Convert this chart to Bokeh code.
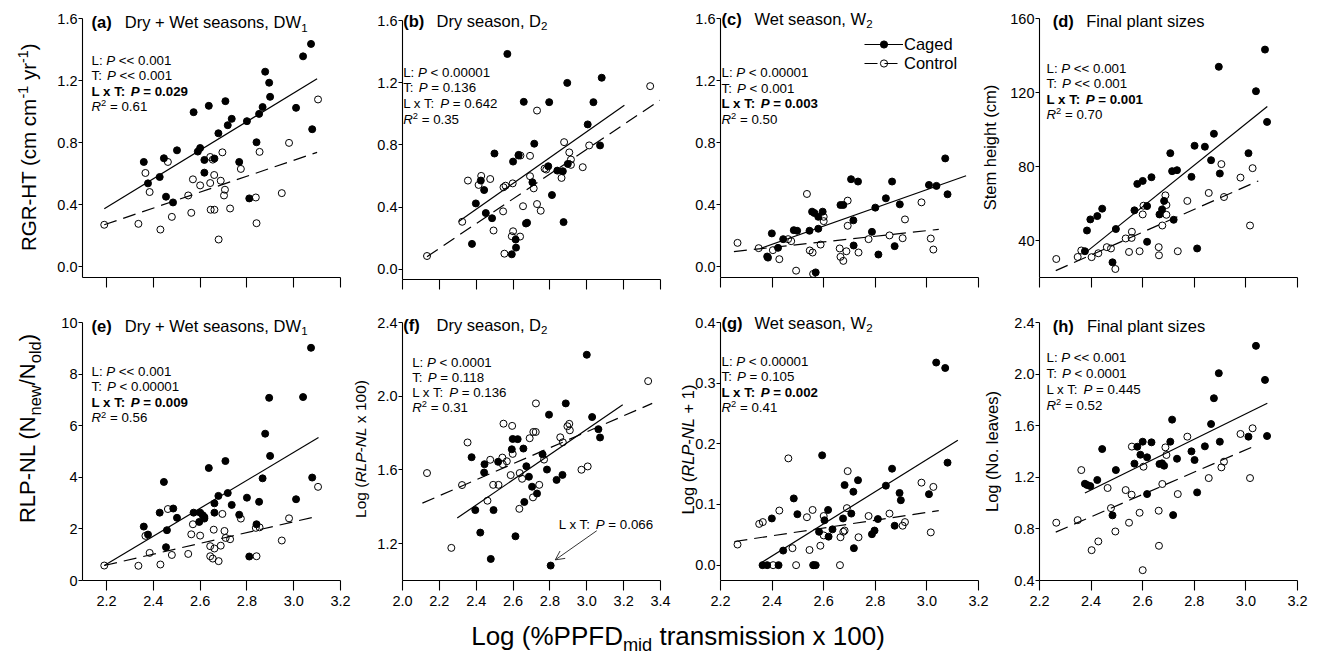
import math
from bokeh.plotting import figure
from bokeh.layouts import row, column
from bokeh.models import (Label, FixedTicker, PrintfTickFormatter, Range1d, Legend,
                          LegendItem, Arrow, OpenHead, LinearAxis)
from bokeh.embed import file_html
from bokeh.resources import INLINE

FONT = "Liberation Sans"

# ---------------- data ----------------
# (a) RGR-HT, DW1
a_caged_x = [2.359, 2.377, 2.427, 2.445, 2.454, 2.484, 2.501, 2.572, 2.590, 2.600, 2.618, 2.618, 2.637, 2.661, 2.678, 2.708, 2.718, 2.735, 2.767, 2.800, 2.810, 2.841, 2.852, 2.867, 2.878, 2.895, 2.899, 3.010, 3.040, 3.074, 3.079]
a_caged_y = [0.675, 0.537, 0.578, 0.699, 0.451, 0.414, 0.750, 0.996, 0.742, 0.765, 0.688, 0.606, 1.037, 0.697, 0.860, 1.067, 0.912, 0.953, 0.675, 0.938, 0.440, 0.802, 0.985, 1.029, 1.257, 1.186, 1.095, 1.024, 1.356, 1.436, 0.886]
a_ctrl_x = [2.190, 2.336, 2.366, 2.384, 2.430, 2.462, 2.479, 2.549, 2.562, 2.569, 2.600, 2.643, 2.643, 2.654, 2.645, 2.661, 2.660, 2.679, 2.688, 2.695, 2.706, 2.702, 2.728, 2.774, 2.838, 2.841, 2.854, 2.949, 2.980, 3.104]
a_ctrl_y = [0.270, 0.276, 0.604, 0.481, 0.239, 0.675, 0.321, 0.459, 0.347, 0.563, 0.524, 0.707, 0.539, 0.690, 0.367, 0.367, 0.591, 0.175, 0.554, 0.737, 0.496, 0.459, 0.375, 0.630, 0.446, 0.280, 0.740, 0.474, 0.798, 1.078]
a_fit_caged_x, a_fit_caged_y = [2.19, 3.10], [0.373, 1.212]
a_fit_ctrl_x, a_fit_ctrl_y = [2.19, 3.10], [0.270, 0.737]

# (b) RGR-HT, D2
b_caged_x = [2.377, 2.398, 2.425, 2.443, 2.452, 2.486, 2.499, 2.569, 2.600, 2.630, 2.658, 2.670, 2.676, 2.593, 2.614, 2.616, 2.705, 2.715, 2.796, 2.791, 2.811, 2.840, 2.870, 2.874, 2.894, 2.897, 3.005, 3.036, 3.072, 3.081]
b_caged_y = [0.164, 0.424, 0.571, 0.510, 0.362, 0.329, 0.745, 1.385, 0.693, 0.736, 1.077, 0.295, 0.300, 0.097, 0.192, 0.140, 0.560, 0.808, 1.075, 0.663, 0.478, 0.635, 0.631, 0.304, 1.199, 0.678, 0.932, 1.075, 0.797, 1.232]
b_ctrl_x = [2.133, 2.324, 2.355, 2.413, 2.427, 2.476, 2.494, 2.546, 2.548, 2.553, 2.559, 2.598, 2.593, 2.600, 2.638, 2.630, 2.640, 2.654, 2.692, 2.692, 2.712, 2.730, 2.730, 2.750, 2.771, 2.780, 2.863, 2.877, 2.905, 2.914, 2.914, 2.978, 3.013, 3.344]
b_ctrl_y = [0.086, 0.306, 0.571, 0.543, 0.601, 0.581, 0.250, 0.373, 0.528, 0.101, 0.538, 0.553, 0.213, 0.245, 0.211, 0.732, 0.732, 0.406, 0.730, 0.599, 0.521, 1.021, 0.420, 0.377, 0.648, 0.642, 0.588, 0.818, 0.752, 0.706, 0.672, 0.657, 0.797, 1.178]
b_fit_caged_x, b_fit_caged_y = [2.305, 3.204], [0.308, 1.055]
b_fit_ctrl_x, b_fit_ctrl_y = [2.133, 3.396], [0.082, 1.087]

# (c) RGR-HT, W2
c_caged_x = [2.381, 2.384, 2.399, 2.423, 2.443, 2.484, 2.497, 2.545, 2.555, 2.564, 2.579, 2.579, 2.596, 2.569, 2.665, 2.676, 2.706, 2.715, 2.716, 2.733, 2.787, 2.800, 2.812, 2.841, 2.865, 2.875, 2.895, 3.008, 3.037, 3.071, 3.080]
c_caged_y = [0.067, 0.060, 0.216, 0.123, 0.179, 0.237, 0.233, 0.233, 0.356, 0.347, 0.323, 0.246, 0.356, -0.035, 0.399, 0.399, 0.565, 0.300, 0.138, 0.550, 0.226, 0.382, 0.080, 0.442, 0.550, 0.134, 0.403, 0.528, 0.522, 0.699, 0.468]
c_ctrl_x = [2.266, 2.348, 2.403, 2.428, 2.462, 2.474, 2.493, 2.535, 2.546, 2.557, 2.559, 2.588, 2.600, 2.600, 2.662, 2.665, 2.676, 2.688, 2.693, 2.693, 2.735, 2.774, 2.855, 2.906, 2.915, 2.979, 3.015, 3.025]
c_ctrl_y = [0.155, 0.121, 0.108, 0.050, 0.179, 0.166, -0.024, 0.470, 0.106, 0.093, -0.045, 0.144, 0.323, 0.295, 0.119, 0.065, 0.039, 0.101, 0.427, 0.265, 0.093, 0.179, 0.203, 0.185, 0.306, 0.416, 0.183, 0.112]
c_fit_caged_x, c_fit_caged_y = [2.355, 3.152], [0.119, 0.587]
c_fit_ctrl_x, c_fit_ctrl_y = [2.252, 3.046], [0.099, 0.242]

# (d) stem height, final
d_caged_x = [2.376, 2.384, 2.397, 2.424, 2.443, 2.483, 2.496, 2.568, 2.579, 2.600, 2.617, 2.617, 2.634, 2.665, 2.675, 2.683, 2.707, 2.714, 2.720, 2.733, 2.789, 2.801, 2.811, 2.841, 2.865, 2.876, 2.895, 2.899, 3.010, 3.039, 3.074, 3.082]
d_caged_y = [34.2, 45.4, 51.4, 53.2, 57.2, 28.2, 46.2, 56.3, 70.6, 72.2, 39.3, 58.6, 74.2, 54.1, 56.8, 61.4, 87.2, 77.5, 51.2, 78.0, 74.4, 91.2, 35.7, 90.7, 83.4, 97.7, 133.9, 76.2, 87.2, 120.7, 143.2, 104.1]
d_ctrl_x = [2.265, 2.348, 2.362, 2.402, 2.428, 2.461, 2.477, 2.494, 2.534, 2.547, 2.558, 2.557, 2.588, 2.600, 2.603, 2.662, 2.663, 2.676, 2.688, 2.692, 2.692, 2.736, 2.773, 2.856, 2.905, 2.915, 2.979, 3.016, 3.026]
d_ctrl_y = [30.0, 31.1, 34.6, 31.0, 33.1, 36.4, 35.7, 24.6, 41.1, 33.8, 44.7, 41.4, 34.2, 54.1, 58.8, 36.4, 32.0, 48.1, 64.4, 59.2, 53.9, 34.2, 61.4, 65.7, 81.3, 63.5, 74.0, 48.1, 79.1]
d_fit_caged_x, d_fit_caged_y = [2.377, 3.083], [33.3, 112.4]
d_fit_ctrl_x, d_fit_ctrl_y = [2.263, 3.048], [23.7, 72.2]

# (e) RLP-NL, DW1
e_caged_x = [2.359, 2.377, 2.427, 2.445, 2.458, 2.454, 2.485, 2.501, 2.572, 2.596, 2.600, 2.611, 2.618, 2.618, 2.637, 2.661, 2.661, 2.678, 2.708, 2.718, 2.735, 2.767, 2.800, 2.810, 2.841, 2.852, 2.867, 2.878, 2.895, 2.899, 3.010, 3.040, 3.074, 3.079]
e_caged_y = [2.09, 1.78, 2.63, 3.82, 1.95, 1.29, 2.79, 2.43, 2.63, 2.27, 2.63, 2.53, 2.46, 2.40, 4.36, 2.63, 2.99, 3.28, 4.63, 3.39, 2.93, 2.55, 3.21, 0.93, 2.18, 3.05, 3.96, 5.69, 7.08, 4.83, 3.15, 7.11, 9.02, 3.99]
e_ctrl_x = [2.190, 2.336, 2.366, 2.384, 2.430, 2.462, 2.479, 2.549, 2.562, 2.569, 2.600, 2.643, 2.643, 2.654, 2.661, 2.658, 2.679, 2.688, 2.695, 2.704, 2.709, 2.728, 2.774, 2.838, 2.841, 2.854, 2.949, 2.980, 3.104]
e_ctrl_y = [0.58, 0.57, 1.73, 1.07, 0.62, 2.77, 0.99, 1.03, 1.79, 2.18, 1.74, 1.33, 0.94, 0.85, 1.24, 1.97, 0.75, 1.35, 2.58, 1.92, 1.65, 1.60, 2.40, 2.04, 0.94, 2.06, 1.55, 2.41, 3.63]
e_fit_caged_x, e_fit_caged_y = [2.19, 3.106], [0.58, 5.54]
e_fit_ctrl_x, e_fit_ctrl_y = [2.19, 3.106], [0.58, 2.50]

# (f) log(RLP-NL x 100), D2
f_caged_x = [2.375, 2.395, 2.422, 2.445, 2.443, 2.479, 2.494, 2.519, 2.593, 2.598, 2.613, 2.625, 2.656, 2.661, 2.672, 2.686, 2.703, 2.730, 2.760, 2.795, 2.784, 2.804, 2.836, 2.868, 2.886, 3.000, 3.029, 3.063, 3.072]
f_caged_y = [1.669, 1.382, 1.260, 1.631, 1.586, 1.117, 1.382, 1.644, 1.712, 1.768, 1.240, 1.767, 1.716, 1.426, 1.620, 1.563, 1.509, 1.472, 1.685, 1.900, 1.602, 1.081, 1.546, 1.573, 1.961, 2.225, 1.887, 1.821, 1.776]
f_ctrl_x = [2.133, 2.265, 2.323, 2.353, 2.461, 2.476, 2.492, 2.521, 2.542, 2.544, 2.548, 2.566, 2.587, 2.595, 2.598, 2.634, 2.636, 2.649, 2.690, 2.710, 2.723, 2.724, 2.708, 2.742, 2.768, 2.856, 2.870, 2.895, 2.905, 2.908, 2.971, 3.005, 3.333]
f_ctrl_y = [1.583, 1.177, 1.518, 1.749, 1.433, 1.655, 1.519, 1.519, 1.667, 1.631, 1.851, 1.647, 1.572, 1.839, 1.687, 1.389, 1.583, 1.552, 1.772, 1.806, 1.806, 1.961, 1.451, 1.519, 1.656, 1.777, 1.750, 1.837, 1.850, 1.815, 1.601, 1.619, 2.082]
f_fit_caged_x, f_fit_caged_y = [2.297, 3.195], [1.339, 1.954]
f_fit_ctrl_x, f_fit_ctrl_y = [2.108, 3.355], [1.420, 1.961]
f_arrow = [3.054, 1.270, 2.829, 1.112]  # x_start, y_start, x_end, y_end

# (g) log(RLP-NL + 1), W2
g_caged_x = [2.363, 2.381, 2.399, 2.425, 2.443, 2.484, 2.498, 2.561, 2.569, 2.582, 2.594, 2.603, 2.617, 2.619, 2.634, 2.675, 2.681, 2.707, 2.715, 2.717, 2.733, 2.787, 2.797, 2.810, 2.841, 2.865, 2.875, 2.894, 2.899, 3.008, 3.036, 3.071, 3.080]
g_caged_y = [0.0, 0.0, 0.077, 0.0, 0.024, 0.110, 0.084, 0.0, 0.0, 0.055, 0.181, 0.074, 0.091, 0.047, 0.059, 0.077, 0.132, 0.085, 0.121, 0.028, 0.140, 0.051, 0.057, 0.076, 0.131, 0.159, 0.065, 0.119, 0.107, 0.117, 0.334, 0.325, 0.169]
g_ctrl_x = [2.266, 2.350, 2.364, 2.404, 2.428, 2.463, 2.479, 2.493, 2.535, 2.545, 2.557, 2.559, 2.587, 2.600, 2.600, 2.663, 2.665, 2.676, 2.681, 2.690, 2.693, 2.735, 2.774, 2.855, 2.906, 2.915, 2.979, 3.015, 3.025]
g_ctrl_y = [0.034, 0.068, 0.071, 0.0, 0.090, 0.176, 0.028, 0.0, 0.079, 0.025, 0.091, 0.0, 0.032, 0.081, 0.049, 0.0, 0.046, 0.055, 0.057, 0.094, 0.155, 0.046, 0.081, 0.085, 0.065, 0.071, 0.136, 0.054, 0.129]
g_fit_caged_x, g_fit_caged_y = [2.355, 3.120], [0.0033, 0.206]
g_fit_ctrl_x, g_fit_ctrl_y = [2.254, 3.046], [0.039, 0.090]

# (h) log(no. leaves), final
h_caged_x = [2.376, 2.385, 2.397, 2.424, 2.443, 2.483, 2.496, 2.568, 2.579, 2.591, 2.600, 2.617, 2.617, 2.634, 2.665, 2.675, 2.683, 2.707, 2.714, 2.718, 2.733, 2.789, 2.801, 2.811, 2.841, 2.865, 2.876, 2.895, 2.899, 3.010, 3.039, 3.074, 3.082]
h_caged_y = [1.150, 1.140, 1.132, 1.179, 1.419, 0.905, 1.256, 1.306, 1.437, 1.375, 1.476, 1.070, 1.355, 1.471, 1.303, 1.308, 1.290, 1.476, 1.647, 0.907, 1.344, 1.401, 1.334, 1.083, 1.440, 1.613, 1.813, 2.007, 1.476, 1.515, 2.219, 1.955, 1.520]
h_ctrl_x = [2.265, 2.348, 2.362, 2.402, 2.428, 2.464, 2.477, 2.494, 2.534, 2.547, 2.558, 2.557, 2.588, 2.600, 2.603, 2.662, 2.663, 2.676, 2.688, 2.692, 2.736, 2.773, 2.856, 2.905, 2.915, 2.979, 3.016, 3.026]
h_ctrl_y = [0.848, 0.868, 1.256, 0.635, 0.703, 1.117, 0.961, 0.780, 1.101, 0.848, 1.438, 1.065, 0.925, 0.480, 1.282, 0.941, 0.669, 1.148, 1.432, 1.373, 1.070, 1.515, 1.194, 1.277, 1.321, 1.536, 1.194, 1.580]
h_fit_caged_x, h_fit_caged_y = [2.376, 3.083], [1.078, 1.774]
h_fit_ctrl_x, h_fit_ctrl_y = [2.263, 3.027], [0.775, 1.437]

# statistics text per panel: L, T, LxT, R2, LxT bold?
stats = {
    "a": ("<< 0.001", "<< 0.001", "= 0.029", "0.61", True),
    "b": ("< 0.00001", "= 0.136", "= 0.642", "0.35", False),
    "c": ("< 0.00001", "< 0.001", "= 0.003", "0.50", True),
    "d": ("<< 0.001", "<< 0.001", "= 0.001", "0.70", True),
    "e": ("<< 0.001", "< 0.00001", "= 0.009", "0.56", True),
    "f": ("< 0.0001", "= 0.118", "= 0.136", "0.31", False),
    "g": ("< 0.00001", "= 0.105", "= 0.002", "0.41", True),
    "h": ("<< 0.001", "< 0.0001", "= 0.445", "0.52", False),
}

# ---------------- text helpers ----------------
REG_W = {' ': 278, '!': 278, '%': 889, '(': 333, ')': 333, '+': 584, ',': 278, '-': 333, '.': 278,
         '/': 278, ':': 278, '<': 584, '=': 584, '>': 584,
         'A': 667, 'B': 667, 'C': 722, 'D': 722, 'E': 667, 'F': 611, 'G': 778, 'H': 722, 'I': 278,
         'L': 556, 'N': 722, 'P': 667, 'R': 722, 'S': 667, 'T': 611, 'W': 944,
         'a': 556, 'b': 556, 'c': 500, 'd': 556, 'e': 556, 'f': 278, 'g': 556, 'h': 556, 'i': 222,
         'l': 222, 'm': 833, 'n': 556, 'o': 556, 'p': 556, 'r': 333, 's': 500, 't': 278, 'v': 500,
         'w': 722, 'x': 500, 'y': 500, 'z': 500}
BOLD_W = {' ': 278, '(': 333, ')': 333, ':': 333, '=': 584, '<': 584, '.': 278, '-': 333,
          'L': 611, 'P': 667, 'T': 611, 'x': 556, 'a': 556, 'b': 611, 'c': 556, 'd': 611,
          'e': 556, 'f': 333, 'g': 611, 'h': 611}
for _d in "0123456789":
    REG_W[_d] = 556
    BOLD_W[_d] = 556

MID = 0.35  # distance (em) from baseline up to the middle of the text box


def text_w(s, size, bold):
    tbl = BOLD_W if bold else REG_W
    return sum(tbl.get(ch, 556) for ch in s) * size / 1000.0


def _pieces(segs, size, small):
    out = []
    cum = 0.0
    for t, st, pos in segs:
        s = size * (small if pos != "base" else 1.0)
        bold = "bold" in st
        lead = len(t) - len(t.lstrip(" "))
        body = t.strip(" ")
        shift = {"base": 0.0, "sub": 0.22 * size, "sup": -0.36 * size}[pos]
        out.append((body, st, s, cum + text_w(" " * lead, s, bold), shift))
        cum += text_w(t, s, bold)
    return out, cum


def _label(p, x, y, text, st, s, ang, xo=0.0, yo=0.0):
    p.add_layout(Label(x=x, y=y, x_offset=xo, y_offset=yo, text=text, angle=ang,
                       text_font=FONT, text_font_size=f"{s:.2f}px", text_font_style=st,
                       text_color="black", text_align="left", text_baseline="middle"))


class Panel:
    """A figure whose frame fills the whole canvas; the visible plot box is drawn with
    fixed-location axes so that texts around it are never clipped."""

    def __init__(self, W, H, fl, ft, fw, fh, xr, yr, xticks, yticks, yfmt, xlabels):
        self.x0, self.x1 = xr
        self.y0, self.y1 = yr
        self.kx = (xr[1] - xr[0]) / fw
        self.ky = (yr[1] - yr[0]) / fh
        rx = Range1d(xr[0] - fl * self.kx, xr[1] + (W - fl - fw) * self.kx)
        ry = Range1d(yr[0] - (H - ft - fh) * self.ky, yr[1] + ft * self.ky)
        p = figure(width=W, height=H, x_range=rx, y_range=ry, min_border=0,
                   x_axis_type=None, y_axis_type=None, output_backend="svg",
                   toolbar_location=None, title=None)
        p.outline_line_color = None
        p.grid.visible = False
        p.background_fill_color = "white"
        p.border_fill_color = "white"
        xa = LinearAxis(ticker=FixedTicker(ticks=xticks), formatter=PrintfTickFormatter(format="%.1f"),
                        fixed_location=yr[0], bounds=tuple(xr))
        ya = LinearAxis(ticker=FixedTicker(ticks=yticks), formatter=PrintfTickFormatter(format=yfmt),
                        fixed_location=xr[0], bounds=tuple(yr))
        for ax in (xa, ya):
            ax.axis_line_color = "black"
            ax.axis_line_width = 1.1
            ax.major_tick_line_color = "black"
            ax.major_tick_line_width = 1.1
            ax.minor_tick_line_color = None
            ax.major_tick_in = 0
            ax.major_label_text_font = FONT
            ax.major_label_text_font_size = "14.5px"
            ax.major_label_text_color = "black"
        xa.major_tick_out = 10
        xa.major_label_standoff = 5
        if not xlabels:
            xa.major_label_text_font_size = "0px"
            xa.major_label_text_color = None
        ya.major_tick_out = 4
        ya.major_label_standoff = 1
        p.add_layout(xa, "below")
        p.add_layout(ya, "left")
        self.p = p

    def rich(self, segs, size, dx, dy, small=0.7, corner="left"):
        """Horizontal text; (dx, dy) px from the plot box top corner to the baseline start."""
        ax = self.x0 if corner == "left" else self.x1
        pieces, _ = _pieces(segs, size, small)
        for body, st, s, adv, shift in pieces:
            down = dy + shift - MID * s
            _label(self.p, ax, self.y1, body, st, s, 0.0, xo=dx + adv, yo=-down)

    def rich_rot(self, segs, size, dx, dy, small=0.7, corner="left"):
        """Bottom-to-top text centred at a baseline point (dx right, dy down) from a top corner."""
        cx = self.x0 if corner == "left" else self.x1
        pieces, total = _pieces(segs, size, small)
        for body, st, s, adv, shift in pieces:
            up = -total / 2.0 + adv
            right = dx + shift - MID * s
            x = cx + right * self.kx
            y = self.y1 - (dy - up) * self.ky
            _label(self.p, x, y, body, st, s, math.pi / 2)

    def stats(self, key, dx, bases):
        L, T, LT, R2, bold = stats[key]
        size = 13.3
        self.rich([("L: ", "normal", "base"), ("P", "italic", "base"), (" " + L, "normal", "base")], size, dx, bases[0])
        self.rich([("T: ", "normal", "base"), ("P", "italic", "base"), (" " + T, "normal", "base")], size, dx, bases[1])
        if bold:
            segs = [("L x T: ", "bold", "base"), ("P", "bold italic", "base"), (" " + LT, "bold", "base")]
        else:
            segs = [("L x T: ", "normal", "base"), ("P", "italic", "base"), (" " + LT, "normal", "base")]
        self.rich(segs, size, dx, bases[2])
        self.rich([("R", "italic", "base"), ("2", "normal", "sup"), (" = " + R2, "normal", "base")], size, dx, bases[3])

    def title(self, letter, segs, ldx, tdx, base):
        self.rich([("(" + letter + ")", "bold", "base")], 16.5, ldx, base)
        self.rich(segs, 16.5, tdx, base)

    def draw(self, cx, cy, ox, oy, fcx, fcy, fox, foy):
        p = self.p
        lc = p.line(fcx, fcy, line_color="black", line_width=1.2)
        lo = p.line(fox, foy, line_color="black", line_width=1.2, line_dash="13 7")
        so = p.scatter(ox, oy, marker="circle", size=7, fill_color=None, line_color="black", line_width=1)
        sc = p.scatter(cx, cy, marker="circle", size=7, fill_color="black", line_color="black", line_width=1)
        return lc, lo, sc, so


XA = [2.2, 2.4, 2.6, 2.8, 3.0, 3.2]
XB = [2.0, 2.2, 2.4, 2.6, 2.8, 3.0, 3.2, 3.4]
Y016 = [0.0, 0.4, 0.8, 1.2, 1.6]
FW, FH1, FH2 = 258, 259, 258
COLW = [351, 323, 328, 306]       # canvas widths (first includes 8px page offset)
FL = [82, 51, 46, 37]             # plot-box left inside each canvas
H1, H2 = 299, 315                 # row heights (first includes 8px page offset)
FT1, FT2 = 18, 23                 # plot-box top inside each canvas

# ---------------- row 1 ----------------
A = Panel(COLW[0], H1, FL[0], FT1, FW, FH1, (2.097, 3.2), (-0.07, 1.6), XA, Y016, "%.1f", False)
A.draw(a_caged_x, a_caged_y, a_ctrl_x, a_ctrl_y, a_fit_caged_x, a_fit_caged_y, a_fit_ctrl_x, a_fit_ctrl_y)
A.title("a", [("Dry + Wet seasons, DW", "normal", "base"), ("1", "normal", "sub")], 9, 42.3, 9.6)
A.stats("a", 9, [46.8, 62.1, 77.5, 92.8])
A.rich_rot([("RGR-HT (cm cm", "normal", "base"), ("-1", "normal", "sup"), (" yr", "normal", "base"),
            ("-1", "normal", "sup"), (")", "normal", "base")], 20.5, -47, 128.7)

B = Panel(COLW[1], H1, FL[1], FT1 + 2, FW, FH1, (2.0, 3.4), (-0.065, 1.6), XB, Y016, "%.1f", False)
B.draw(b_caged_x, b_caged_y, b_ctrl_x, b_ctrl_y, b_fit_caged_x, b_fit_caged_y, b_fit_ctrl_x, b_fit_ctrl_y)
B.title("b", [("Dry season, D", "normal", "base"), ("2", "normal", "sub")], 0.7, 34, 6.1)
B.stats("b", 0.7, [56.6, 72.0, 87.6, 103.3])

C = Panel(COLW[2], H1, FL[2], FT1, FW, FH1, (2.2, 3.2), (-0.068, 1.6), XA, Y016, "%.1f", False)
lc, lo, sc, so = C.draw(c_caged_x, c_caged_y, c_ctrl_x, c_ctrl_y, c_fit_caged_x, c_fit_caged_y, c_fit_ctrl_x, c_fit_ctrl_y)
C.title("c", [("Wet season, W", "normal", "base"), ("2", "normal", "sub")], 1, 34, 6.2)
C.stats("c", 1, [59.1, 74.5, 90.1, 105.8])
leg = Legend(items=[LegendItem(label="Caged", renderers=[lc, sc]),
                    LegendItem(label="Control", renderers=[lo, so])],
             location=(FL[2] + 144, H1 - (FT1 + 16.8 + 38)), border_line_color=None,
             background_fill_alpha=0, padding=0, margin=0, spacing=0, glyph_width=39,
             glyph_height=18, label_height=18, label_standoff=1, label_text_font=FONT,
             label_text_font_size="16.5px", label_text_color="black")
C.p.add_layout(leg)
# y label of panel (d) sits in the gap right of panel (c)
C.rich_rot([("Stem height (cm)", "normal", "base")], 16.5, 17, 129, corner="right")

D = Panel(COLW[3], H1, FL[3], FT1, FW, FH1, (2.2, 3.2), (20, 160), XA, [40, 80, 120, 160], "%d", False)
D.draw(d_caged_x, d_caged_y, d_ctrl_x, d_ctrl_y, d_fit_caged_x, d_fit_caged_y, d_fit_ctrl_x, d_fit_ctrl_y)
D.title("d", [("Final plant sizes", "normal", "base")], 13.3, 46.7, 8.6)
D.stats("d", 7, [55.1, 70.1, 85.5, 100.8])

# ---------------- row 2 ----------------
E = Panel(COLW[0], H2, FL[0], FT2, FW, FH2, (2.097, 3.2), (0, 10), XA, [0, 2, 4, 6, 8, 10], "%d", True)
E.draw(e_caged_x, e_caged_y, e_ctrl_x, e_ctrl_y, e_fit_caged_x, e_fit_caged_y, e_fit_ctrl_x, e_fit_ctrl_y)
E.title("e", [("Dry + Wet seasons, DW", "normal", "base"), ("1", "normal", "sub")], 9, 42.3, 8.9)
E.stats("e", 9, [53.8, 69.1, 84.5, 100.1])
E.rich_rot([("RLP-NL (N", "normal", "base"), ("new", "normal", "sub"), ("/N", "normal", "base"),
            ("old", "normal", "sub"), (")", "normal", "base")], 22, -47, 106, small=0.75)

F = Panel(COLW[1], H2, FL[1], FT2, FW, FH2, (2.0, 3.4), (1.0, 2.4), XB, [1.2, 1.6, 2.0, 2.4], "%.1f", True)
F.draw(f_caged_x, f_caged_y, f_ctrl_x, f_ctrl_y, f_fit_caged_x, f_fit_caged_y, f_fit_ctrl_x, f_fit_ctrl_y)
F.title("f", [("Dry season, D", "normal", "base"), ("2", "normal", "sub")], 0.7, 34, 8.4)
F.stats("f", 9.7, [44.3, 59.6, 74.6, 90.0])
F.rich([("L x T: ", "normal", "base"), ("P", "italic", "base"), (" = 0.066", "normal", "base")], 13.3, 156.3, 206.3)
F.p.add_layout(Arrow(end=OpenHead(size=9, line_width=0.8, line_color="black"),
                     x_start=f_arrow[0], y_start=f_arrow[1], x_end=f_arrow[2], y_end=f_arrow[3],
                     line_width=0.8, line_color="black"))
F.rich_rot([("Log (", "normal", "base"), ("RLP-NL", "italic", "base"), (" x 100)", "normal", "base")],
           15.5, -36.3, 126.5)

G = Panel(COLW[2], H2, FL[2], FT2, FW, FH2, (2.2, 3.2), (-0.0253, 0.4), XA, [0.0, 0.1, 0.2, 0.3, 0.4], "%.1f", True)
G.draw(g_caged_x, g_caged_y, g_ctrl_x, g_ctrl_y, g_fit_caged_x, g_fit_caged_y, g_fit_ctrl_x, g_fit_ctrl_y)
G.title("g", [("Wet season, W", "normal", "base"), ("2", "normal", "sub")], 1, 34, 5.9)
G.stats("g", 1, [44.1, 59.1, 74.4, 89.8])
G.rich_rot([("Log (", "normal", "base"), ("RLP-NL", "italic", "base"), (" + 1)", "normal", "base")],
           16.5, -27, 127)
# y label of panel (h) sits in the gap right of panel (g)
G.rich_rot([("Log (No. leaves)", "normal", "base")], 16.5, 19, 129, corner="right")

Hp = Panel(COLW[3], H2, FL[3], FT2, FW, FH2, (2.2, 3.2), (0.4, 2.4), XA, [0.4, 0.8, 1.2, 1.6, 2.0, 2.4], "%.1f", True)
Hp.draw(h_caged_x, h_caged_y, h_ctrl_x, h_ctrl_y, h_fit_caged_x, h_fit_caged_y, h_fit_ctrl_x, h_fit_ctrl_y)
Hp.title("h", [("Final plant sizes", "normal", "base")], 13.3, 47.4, 8.9)
Hp.stats("h", 7, [40.1, 56.1, 71.8, 87.5])

# ---------------- shared x label ----------------
XH = 46
px = figure(width=sum(COLW), height=XH, x_range=Range1d(0, sum(COLW)), y_range=Range1d(0, XH),
            x_axis_type=None, y_axis_type=None, min_border=0, output_backend="svg",
            toolbar_location=None, title=None)
px.outline_line_color = None
px.grid.visible = False
for body, st, s, adv, shift in _pieces([("Log (%PPFD", "normal", "base"), ("mid", "normal", "sub"),
                                         (" transmission x 100)", "normal", "base")], 26, 0.7)[0]:
    down = 31 + shift - MID * s
    _label(px, 470.7 + adv, XH - down, body, st, s, 0.0)

layout = column(row(A.p, B.p, C.p, D.p, spacing=0), row(E.p, F.p, G.p, Hp.p, spacing=0), px, spacing=0)

open("out.html", "w").write(file_html(layout, INLINE, title="plot"))
